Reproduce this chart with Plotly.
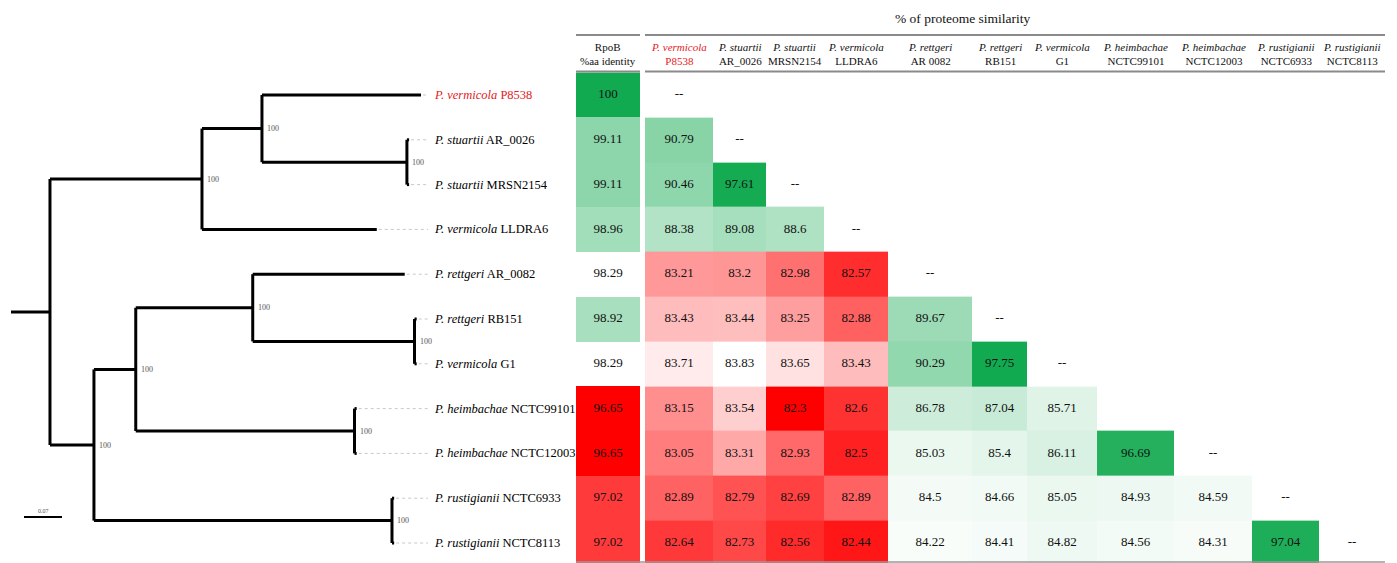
import numpy as np
import plotly.graph_objects as go

# ---------------- data ----------------
species = ["P. vermicola", "P. stuartii", "P. stuartii", "P. vermicola", "P. rettgeri",
           "P. rettgeri", "P. vermicola", "P. heimbachae", "P. heimbachae",
           "P. rustigianii", "P. rustigianii"]
strains_tree = ["P8538", "AR_0026", "MRSN2154", "LLDRA6", "AR_0082", "RB151", "G1",
                "NCTC99101", "NCTC12003", "NCTC6933", "NCTC8113"]
strains_header = ["P8538", "AR_0026", "MRSN2154", "LLDRA6", "AR 0082", "RB151", "G1",
                  "NCTC99101", "NCTC12003", "NCTC6933", "NCTC8113"]
highlight = [True] + [False] * 10

rpob_identity = [100, 99.11, 99.11, 98.96, 98.29, 98.92, 98.29, 96.65, 96.65, 97.02, 97.02]

proteome_rows = [
    [],
    [90.79],
    [90.46, 97.61],
    [88.38, 89.08, 88.6],
    [83.21, 83.2, 82.98, 82.57],
    [83.43, 83.44, 83.25, 82.88, 89.67],
    [83.71, 83.83, 83.65, 83.43, 90.29, 97.75],
    [83.15, 83.54, 82.3, 82.6, 86.78, 87.04, 85.71],
    [83.05, 83.31, 82.93, 82.5, 85.03, 85.4, 86.11, 96.69],
    [82.89, 82.79, 82.69, 82.89, 84.5, 84.66, 85.05, 84.93, 84.59],
    [82.64, 82.73, 82.56, 82.44, 84.22, 84.41, 84.82, 84.56, 84.31, 97.04],
]
diag_dash = [True, True, True, True, True, True, True, False, True, True, True]

# tree: internal = (branch_length, support, children); leaf = (branch_length, leaf_index)
tree = (0.0718, None, [
    (0.280, 100, [
        (0.1105, 100, [
            (0.293, 0),
            (0.267, 100, [(0.004, 1), (0.004, 2)]),
        ]),
        (0.322, 3),
    ]),
    (0.081, 100, [
        (0.077, 100, [
            (0.2155, 100, [
                (0.280, 4),
                (0.298, 100, [(0.004, 5), (0.004, 6)]),
            ]),
            (0.403, 100, [(0.004, 7), (0.004, 8)]),
        ]),
        (0.549, 100, [(0.004, 9), (0.004, 10)]),
    ]),
])
scale_bar_value = 0.07

# ---------------- layout constants ----------------
W, H = 1397, 563
FONT = "Liberation Serif"
TREE_X0 = 11
PX_PER_UNIT = 38 / 0.07
ROW0 = 95
ROW_H = 44.8
LABEL_X = 432
LEADER_END = 428
RPOB_EDGES = [576, 640]
MATRIX_EDGES = [645, 713, 766, 824, 888, 972, 1027, 1097, 1174, 1252, 1319, 1385]
TITLE_X = 963
RED = "#e5201e"
GREEN = (18, 170, 80)

n = len(species)
row_y = [ROW0 + ROW_H * i for i in range(n)]
row_edges = [ROW0 - ROW_H / 2 + ROW_H * i for i in range(n + 1)]

fig = go.Figure()

# ---------------- tree ----------------
tx, ty = [], []
lead_x, lead_y = [], []
leaf_tip = {}
supports = []


def layout_node(node, parent_x):
    x = parent_x + node[0] * PX_PER_UNIT
    if len(node) == 2:
        y = row_y[node[1]]
        leaf_tip[node[1]] = (x, y)
    else:
        ys = [layout_node(c, x) for c in node[2]]
        y = (ys[0] + ys[-1]) / 2
        tx.extend([x, x, None]); ty.extend([ys[0], ys[-1], None])
        if node[1] is not None:
            supports.append((x, y, node[1]))
    tx.extend([parent_x, x, None]); ty.extend([y, y, None])
    return y


layout_node(tree, TREE_X0)

for i, (x, y) in leaf_tip.items():
    lead_x.extend([x + 2, LEADER_END, None]); lead_y.extend([y, y, None])

fig.add_trace(go.Scatter(x=lead_x, y=lead_y, mode="lines",
                         line=dict(color="#c8c8c8", width=1, dash="dot"),
                         hoverinfo="skip", showlegend=False))
fig.add_trace(go.Scatter(x=tx, y=ty, mode="lines",
                         line=dict(color="black", width=3),
                         hoverinfo="skip", showlegend=False))

# scale bar
sb_x0, sb_y = 24, 517
fig.add_trace(go.Scatter(x=[sb_x0, sb_x0 + scale_bar_value * PX_PER_UNIT], y=[sb_y, sb_y],
                         mode="lines", line=dict(color="black", width=2),
                         hoverinfo="skip", showlegend=False))

annotations = []
annotations.append(dict(x=sb_x0 + scale_bar_value * PX_PER_UNIT / 2, y=sb_y - 6,
                        text=f"{scale_bar_value:g}", showarrow=False,
                        font=dict(family=FONT, size=6, color="#555")))
for x, y, s in supports:
    annotations.append(dict(x=x + 3, y=y, text=str(s), xanchor="left", showarrow=False,
                            font=dict(family=FONT, size=8, color="#555")))
for i in range(n):
    col = RED if highlight[i] else "black"
    annotations.append(dict(x=LABEL_X, y=row_y[i], xanchor="left", showarrow=False,
                            text=f"<i>{species[i]}</i> {strains_tree[i]}",
                            font=dict(family=FONT, size=12.5, color=col)))


# ---------------- heatmaps ----------------
def diverging_scale(vals):
    v = np.array(vals, dtype=float)
    lo, hi, mid = v.min(), v.max(), np.median(v)
    p = (mid - lo) / (hi - lo)
    g = f"rgb{GREEN}"
    return lo, hi, [[0, "rgb(255,0,0)"], [p, "rgb(255,255,255)"], [1, g]]


lo, hi, cs = diverging_scale(rpob_identity)
fig.add_trace(go.Heatmap(z=[[v] for v in rpob_identity], x=RPOB_EDGES, y=row_edges,
                         zmin=lo, zmax=hi, colorscale=cs, showscale=False,
                         hoverinfo="skip"))

zmat = [[None] * n for _ in range(n)]
allv = []
for i, row in enumerate(proteome_rows):
    for j, v in enumerate(row):
        zmat[i][j] = v
        allv.append(v)
lo2, hi2, cs2 = diverging_scale(allv)
fig.add_trace(go.Heatmap(z=zmat, x=MATRIX_EDGES, y=row_edges, zmin=lo2, zmax=hi2,
                         colorscale=cs2, showscale=False, hoverinfo="skip"))

# cell texts
rp_cx = (RPOB_EDGES[0] + RPOB_EDGES[1]) / 2
col_cx = [(MATRIX_EDGES[j] + MATRIX_EDGES[j + 1]) / 2 for j in range(n)]
txt_x, txt_y, txt = [], [], []
for i in range(n):
    txt_x.append(rp_cx); txt_y.append(row_y[i]); txt.append(f"{rpob_identity[i]:g}")
    for j, v in enumerate(proteome_rows[i]):
        txt_x.append(col_cx[j]); txt_y.append(row_y[i]); txt.append(f"{v:g}")
    if diag_dash[i]:
        txt_x.append(col_cx[i]); txt_y.append(row_y[i]); txt.append("--")
fig.add_trace(go.Scatter(x=txt_x, y=txt_y, text=txt, mode="text",
                         textfont=dict(family=FONT, size=13, color="#111"),
                         hoverinfo="skip", showlegend=False))

# ---------------- header ----------------
annotations.append(dict(x=TITLE_X, y=18,
                        text="% of proteome similarity", showarrow=False,
                        font=dict(family=FONT, size=13.5, color="#111")))
annotations.append(dict(x=rp_cx, y=54, text="RpoB<br>%aa identity", showarrow=False,
                        font=dict(family=FONT, size=11, color="#111")))
for j in range(n):
    col = RED if highlight[j] else "#111"
    annotations.append(dict(x=col_cx[j], y=54, showarrow=False,
                            text=f"<i>{species[j]}</i><br>{strains_header[j]}",
                            font=dict(family=FONT, size=11, color=col)))

shapes = []
for yy in (35, 71.5):
    for (a, b) in ((RPOB_EDGES[0], RPOB_EDGES[1]), (MATRIX_EDGES[0], MATRIX_EDGES[-1])):
        shapes.append(dict(type="line", xref="x", yref="y", x0=a, x1=b, y0=yy, y1=yy,
                           line=dict(color="#8a8a8a", width=2)))
shapes.append(dict(type="line", xref="x", yref="y", x0=RPOB_EDGES[0], x1=MATRIX_EDGES[-1],
                   y0=562, y1=562, line=dict(color="#9a9a9a", width=1.5)))

fig.update_layout(
    width=W, height=H,
    margin=dict(l=0, r=0, t=0, b=0),
    paper_bgcolor="white", plot_bgcolor="white",
    xaxis=dict(range=[0, W], visible=False, fixedrange=True),
    yaxis=dict(range=[H, 0], visible=False, fixedrange=True),
    annotations=annotations, shapes=shapes, showlegend=False,
)

fig.write_html("out.html", config={"displayModeBar": False},
               post_script="document.body.style.margin='0';document.body.style.overflow='hidden';")
